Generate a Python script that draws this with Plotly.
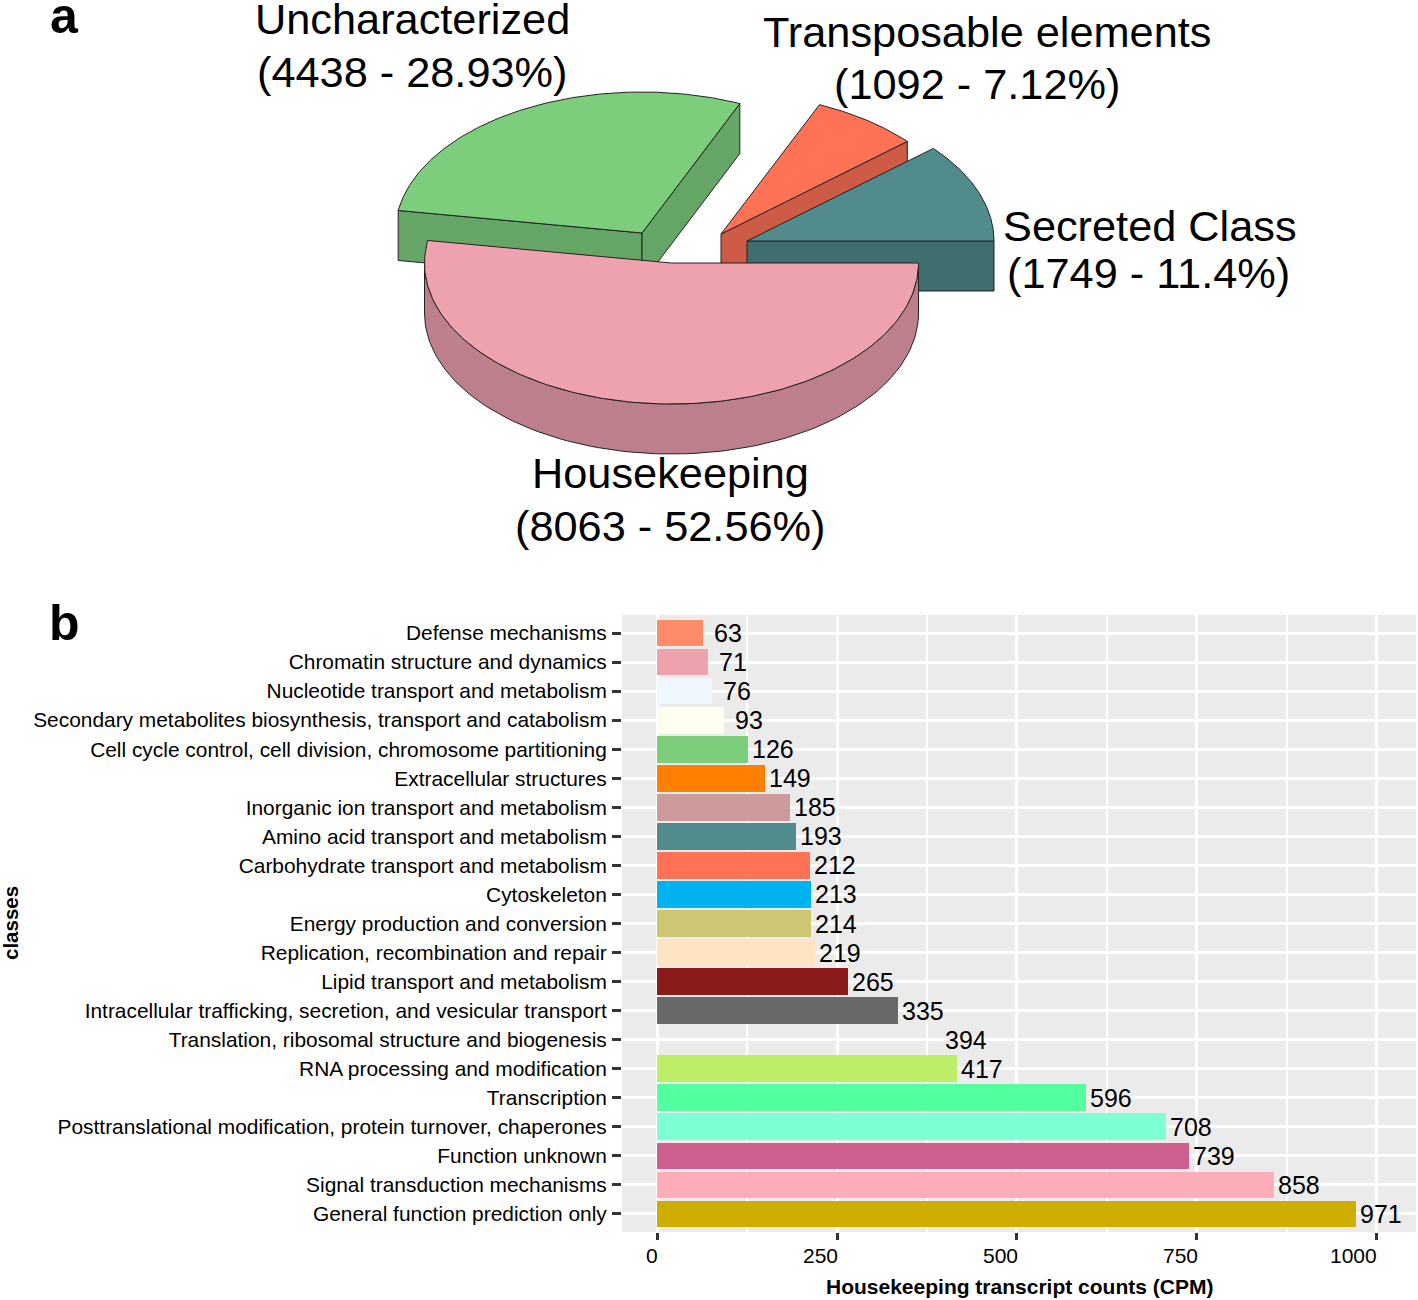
import numpy as np
import plotly.graph_objects as go

# ---------- data ----------
pie_labels = ["Housekeeping", "Uncharacterized", "Transposable elements", "Secreted Class"]
pie_counts = [8063, 4438, 1092, 1749]
pie_percent = [52.56, 28.93, 7.12, 11.4]
pie_percent_text = ["52.56", "28.93", "7.12", "11.4"]

classes = [
    "Defense mechanisms", "Chromatin structure and dynamics",
    "Nucleotide transport and metabolism",
    "Secondary metabolites biosynthesis, transport and catabolism",
    "Cell cycle control, cell division, chromosome partitioning",
    "Extracellular structures", "Inorganic ion transport and metabolism",
    "Amino acid transport and metabolism", "Carbohydrate transport and metabolism",
    "Cytoskeleton", "Energy production and conversion",
    "Replication, recombination and repair", "Lipid transport and metabolism",
    "Intracellular trafficking, secretion, and vesicular transport",
    "Translation, ribosomal structure and biogenesis",
    "RNA processing and modification", "Transcription",
    "Posttranslational modification, protein turnover, chaperones",
    "Function unknown", "Signal transduction mechanisms", "General function prediction only",
]
counts = [63, 71, 76, 93, 126, 149, 185, 193, 212, 213, 214, 219, 265, 335, 394, 417, 596, 708, 739, 858, 971]
bar_colors = [
    "#FF8C69", "#EEA2AD", "#F0F8FF", "#FFFFF0", "#7CCD7C", "#FF7F00", "#CD9B9B",
    "#528B8B", "#FF7256", "#00B2EE", "#CDC673", "#FFE4C4", "#8B1A1A", "#696969",
    "rgba(0,0,0,0)", "#BCEE68", "#54FF9F", "#7FFFD4", "#CD6090", "#FFAEB9", "#CDAD00",
]
x_ticks = [0, 250, 500, 750, 1000]

# ---------- layout constants ----------
W, H = 1418, 1300
PIE_H = 575
FONT = "Liberation Sans, Arial, sans-serif"
INK = "#000000"
RX, RY, DEPTH = 247, 141, 50
centers = {"Housekeeping": (671.5, 263), "Uncharacterized": (642, 233),
           "Transposable elements": (721, 234), "Secreted Class": (747, 241)}
top_colors = {"Housekeeping": "#EEA2AD", "Uncharacterized": "#7CCD7C",
              "Transposable elements": "#FF7256", "Secreted Class": "#528B8B"}
side_colors = {"Housekeeping": "#BC7F8B", "Uncharacterized": "#65A565",
               "Transposable elements": "#CD5B45", "Secreted Class": "#406E6E"}
draw_order = ["Uncharacterized", "Transposable elements", "Secreted Class", "Housekeeping"]

fig = go.Figure()

# ---------- panel a: pie, angles from the percentages ----------
ends = np.cumsum(pie_percent) / sum(pie_percent) * 2 * np.pi
starts = np.concatenate([[0], ends[:-1]])
span = {n: (s, e) for n, s, e in zip(pie_labels, starts, ends)}


def point(name, t, dz=0):
    cx, cy = centers[name]
    return cx + RX * np.cos(t), cy + RY * np.sin(t) + dz


def poly(name, xs, ys, color):
    fig.add_trace(go.Scatter(
        x=xs, y=ys, mode="lines", fill="toself", fillcolor=color,
        line=dict(color="#222222", width=1), hoverinfo="text", text=name,
        xaxis="x2", yaxis="y2", showlegend=False))


for name in draw_order:
    s, e = span[name]
    cx, cy = centers[name]
    # radial side faces that look towards the viewer
    for t in (s, e):
        px, py = point(name, t)
        show = (name == "Secreted Class" and t == e) or \
               (name == "Uncharacterized") or \
               (name == "Transposable elements" and t == e)
        if show:
            poly(name, [cx, px, px, cx, cx], [cy, py, py + DEPTH, cy + DEPTH, cy], side_colors[name])
    # curved outer side, front half only
    a0, a1 = max(s, 0), min(e, np.pi)
    if a1 > a0:
        tt = np.linspace(a0, a1, 120)
        xa, ya = point(name, tt)
        xb, yb = point(name, tt[::-1], DEPTH)
        poly(name, np.r_[xa, xb, xa[0]], np.r_[ya, yb, ya[0]], side_colors[name])
    # top face
    tt = np.linspace(s, e, 160)
    xa, ya = point(name, tt)
    poly(name, np.r_[cx, xa, cx], np.r_[cy, ya, cy], top_colors[name])

# ---------- panel b: bars ----------
fig.add_trace(go.Bar(
    y=classes, x=counts, orientation="h", width=0.92,
    marker=dict(color=bar_colors, line=dict(width=0)),
    hovertemplate="%{y}: %{x}<extra></extra>", showlegend=False))

annotations = []


def label(x, y, text, size, bold=False, **kw):
    """Text placed by page position unless explicit axis references are given."""
    xref = kw.pop("xref", "paper")
    yref = kw.pop("yref", "paper")
    annotations.append(dict(
        x=x / W if xref == "paper" else x,
        y=1 - y / H if yref == "paper" else y,
        xref=xref, yref=yref, text=f"<b>{text}</b>" if bold else text,
        showarrow=False, font=dict(family=FONT, size=size, color=INK),
        xanchor="center", yanchor="middle", **kw))


for c, v in zip(classes, counts):
    label(v, c, str(v), 25, xref="x", yref="y", xshift=25)

# tick labels sit a little left of their ticks in the reference
for v, shift in zip(x_ticks, [-5, -17, -16, -16, -23]):
    label(v, 1255, str(v), 21, xref="x", xshift=shift)

label(1019, 1286, "Housekeeping transcript counts (CPM)", 21, bold=True)
label(10, 923, "classes", 20.5, bold=True, textangle=-90)
label(64, 16, "a", 50, bold=True)
label(64, 623, "b", 50, bold=True)

# pie labels
lines = [(412, 19, 72), (987, 32, 84), (1150, 226, 273), (670, 473, 526)]
order = ["Uncharacterized", "Transposable elements", "Secreted Class", "Housekeeping"]
second_x = {"Uncharacterized": 412, "Transposable elements": 977,
            "Secreted Class": 1148, "Housekeeping": 670}
for name, (lx, y1, y2) in zip(order, lines):
    i = pie_labels.index(name)
    label(lx, y1, name, 43.3)
    label(second_x[name], y2, f"({pie_counts[i]} - {pie_percent_text[i]}%)", 43.3)

fig.update_layout(
    width=W, height=H, margin=dict(l=0, r=0, t=0, b=0),
    paper_bgcolor="white", plot_bgcolor="white", showlegend=False,
    font=dict(family=FONT, color=INK), annotations=annotations, bargap=0,
    shapes=[dict(type="rect", xref="x domain", yref="y domain", x0=0, x1=1, y0=0, y1=1,
                 fillcolor="#EBEBEB", line=dict(width=0), layer="below")],
    xaxis=dict(
        domain=[622 / W, 1416 / W], anchor="y", range=[-49.2, 1055],
        tickvals=x_ticks, showticklabels=False, ticks="outside", ticklen=7, tickwidth=2.5, tickcolor="#333333",
        showgrid=True, gridcolor="white", gridwidth=3, zeroline=False, showline=False,
        minor=dict(tickvals=[125, 375, 625, 875], showgrid=True, gridcolor="white", gridwidth=2, ticks=""),
    ),
    yaxis=dict(
        domain=[1 - 1232 / H, 1 - 615 / H], anchor="x", type="category",
        categoryorder="array", categoryarray=classes, range=[20.62, -0.62],
        ticks="outside", ticklen=9, tickwidth=2.5, tickcolor="#333333",
        tickfont=dict(family=FONT, size=20.9, color=INK), ticklabelstandoff=1,
        showgrid=True, gridcolor="white", gridwidth=3, zeroline=False, showline=False,
    ),
    xaxis2=dict(domain=[0, 1], range=[0, W], visible=False, anchor="y2", fixedrange=True),
    yaxis2=dict(domain=[1 - PIE_H / H, 1], range=[PIE_H, 0], visible=False, anchor="x2", fixedrange=True),
)

fig.write_html("out.html", config={"displayModeBar": False},
               post_script="document.body.style.margin='0';")
